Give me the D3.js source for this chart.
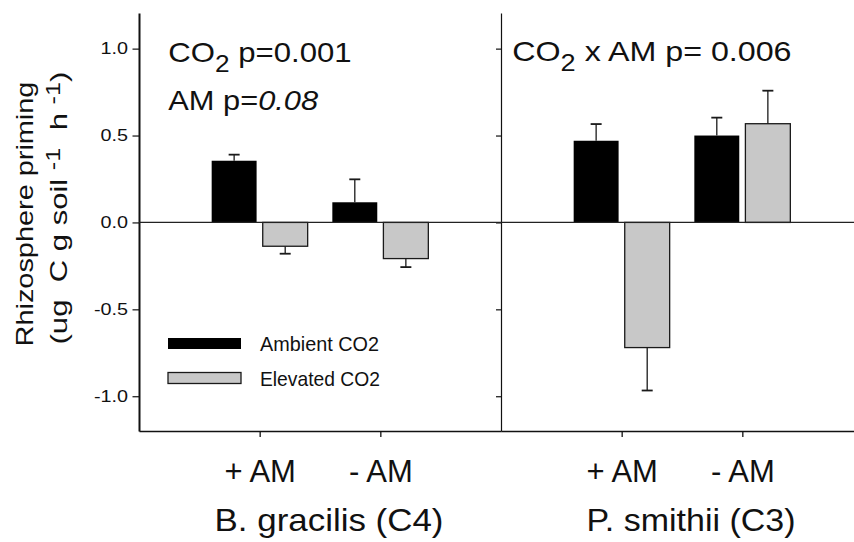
<!DOCTYPE html>
<html>
<head>
<meta charset="utf-8">
<script src="https://cdn.jsdelivr.net/npm/d3@7"></script>
<style>
  body { margin: 0; background: #fff; }
  text { font-family: "Liberation Sans", Arial, sans-serif; fill: #111; white-space: pre; }
</style>
</head>
<body>
<div id="chart"></div>
<script>
// Values (one inner array per species panel).
const species = ["B. gracilis (C4)", "P. smithii (C3)"];
const treatments = ["+ AM", "- AM"];
const series = ["Ambient CO2", "Elevated CO2"];
const ambientMean = [[0.355, 0.116], [0.47, 0.50]];
const ambientErr = [[0.035, 0.132], [0.096, 0.103]];
const elevatedMean = [[-0.137, -0.208], [-0.72, 0.568]];
const elevatedErr = [[0.043, 0.049], [0.247, 0.19]];
const yTicks = [-1.0, -0.5, 0.0, 0.5, 1.0];
const yTickLabels = ["-1.0", "-0.5", "0.0", "0.5", "1.0"];

// Chart size and layout.
const width = 854;
const height = 542;
const margin = { top: 13, bottom: 111, left: 139 };
const panelWidth = 362;
const colors = ["#000000", "#c8c8c8"];

const svg = d3.select("#chart")
  .append("svg")
  .attr("width", width)
  .attr("height", height);

svg.append("rect").attr("width", width).attr("height", height).attr("fill", "#fff");

const y = d3.scaleLinear()
  .domain([-1.2, 1.205])
  .range([height - margin.bottom, margin.top]);

const inner = d3.scaleBand()
  .domain(series)
  .range([-48, 48])
  .paddingInner(0.12);

// Text in the figure is wider than Arial, so stretch it to the measured width.
function fitWidth(t, w) {
  const bw = t.node().getBBox().width;
  t.attr("transform", "scale(" + (w / bw) + ",1)");
}

function placeText(x, yPos, rotate) {
  return svg.append("g")
    .attr("transform", "translate(" + x + "," + yPos + ")" + (rotate ? " rotate(" + rotate + ")" : ""))
    .append("text");
}

species.forEach(function(name, i) {
  const x0 = margin.left + i * panelWidth;
  const x = d3.scalePoint()
    .domain(treatments)
    .range([x0, x0 + panelWidth])
    .padding(1);

  const rows = [];
  treatments.forEach(function(t, j) {
    rows.push({ t: t, s: series[0], v: ambientMean[i][j], e: ambientErr[i][j] });
    rows.push({ t: t, s: series[1], v: elevatedMean[i][j], e: elevatedErr[i][j] });
  });

  // Bars.
  svg.append("g")
    .selectAll("rect")
    .data(rows)
    .enter()
    .append("rect")
    .attr("x", function(d) { return x(d.t) + inner(d.s); })
    .attr("y", function(d) { return Math.min(y(d.v), y(0)); })
    .attr("width", inner.bandwidth())
    .attr("height", function(d) { return Math.abs(y(d.v) - y(0)); })
    .attr("fill", function(d) { return colors[series.indexOf(d.s)]; })
    .attr("stroke", "#1a1a1a")
    .attr("stroke-width", function(d) { return d.s === series[1] ? 1.3 : 0; });

  // One-sided error bars.
  const eb = svg.append("g")
    .selectAll("g")
    .data(rows)
    .enter()
    .append("g")
    .attr("stroke", "#1a1a1a");

  eb.append("line")
    .attr("x1", function(d) { return x(d.t) + inner(d.s) + inner.bandwidth() / 2; })
    .attr("x2", function(d) { return x(d.t) + inner(d.s) + inner.bandwidth() / 2; })
    .attr("y1", function(d) { return y(d.v); })
    .attr("y2", function(d) { return y(d.v + Math.sign(d.v) * d.e); })
    .attr("stroke-width", 1.3);

  eb.append("line")
    .attr("x1", function(d) { return x(d.t) + inner(d.s) + inner.bandwidth() / 2 - 5.5; })
    .attr("x2", function(d) { return x(d.t) + inner(d.s) + inner.bandwidth() / 2 + 5.5; })
    .attr("y1", function(d) { return y(d.v + Math.sign(d.v) * d.e); })
    .attr("y2", function(d) { return y(d.v + Math.sign(d.v) * d.e); })
    .attr("stroke-width", 1.8);

  // Bottom axis with treatment labels.
  const xAxis = svg.append("g")
    .attr("transform", "translate(0," + (height - margin.bottom) + ")")
    .call(d3.axisBottom(x).tickSize(6).tickSizeOuter(0));
  xAxis.select(".domain").attr("stroke", "#111").attr("stroke-width", 1.5);
  xAxis.selectAll("line").attr("stroke", "#111").attr("stroke-width", 1.3);
  xAxis.selectAll("text")
    .attr("y", 51)
    .attr("dy", 0)
    .attr("fill", "#111")
    .style("font-size", "31px");

  // Species title under each panel.
  const title = placeText(x0 + 190, 531).attr("text-anchor", "middle").style("font-size", "31px").text(name);
  fitWidth(title, i === 0 ? 229 : 209);

  // Left axis for each panel, labels only on the first.
  const yAxis = svg.append("g")
    .attr("transform", "translate(" + x0 + ",0)")
    .call(d3.axisLeft(y)
      .tickValues(yTicks)
      .tickSize(i === 0 ? 6.5 : 5)
      .tickSizeOuter(0)
      .tickFormat(function(d, k) { return i === 0 ? yTickLabels[k] : ""; }));
  yAxis.select(".domain").attr("stroke", "#111").attr("stroke-width", i === 0 ? 2 : 1.2);
  yAxis.selectAll("line").attr("stroke", "#111").attr("stroke-width", 1.2);
  yAxis.selectAll("text")
    .attr("x", -11 / 1.2)
    .attr("transform", "scale(1.2,1)")
    .attr("fill", "#222")
    .style("font-size", "16.5px");
});

// Zero line across both panels.
svg.append("line")
  .attr("x1", margin.left)
  .attr("x2", width)
  .attr("y1", y(0))
  .attr("y2", y(0))
  .attr("stroke", "#222")
  .attr("stroke-width", 1.2);

// Y axis title, two lines.
const yl1 = placeText(33, 214, -90).attr("text-anchor", "middle").style("font-size", "24.5px").text("Rhizosphere priming");
fitWidth(yl1, 265);
const yl2 = placeText(67, 208, -90).attr("text-anchor", "middle").style("font-size", "24.5px");
yl2.append("tspan").text("(ug  C g soil ");
yl2.append("tspan").attr("dy", -7).style("font-size", "20px").text("-1");
yl2.append("tspan").attr("dy", 7).text("  h ");
yl2.append("tspan").attr("dy", -7).style("font-size", "20px").text("-1");
yl2.append("tspan").attr("dy", 7).text(")");
fitWidth(yl2, 273);

// Statistics annotations.
const a1 = placeText(168.3, 62).style("font-size", "28.5px");
a1.append("tspan").text("CO");
a1.append("tspan").attr("dy", 10).style("font-size", "24px").text("2");
a1.append("tspan").attr("dy", -10).text(" p=0.001");
fitWidth(a1, 183.4);

const a2 = placeText(168.3, 110).style("font-size", "28.5px");
a2.append("tspan").text("AM p=");
a2.append("tspan").style("font-style", "italic").text("0.08");
fitWidth(a2, 150);

const a3 = placeText(512.3, 61).style("font-size", "28.5px");
a3.append("tspan").text("CO");
a3.append("tspan").attr("dy", 10).style("font-size", "24px").text("2");
a3.append("tspan").attr("dy", -10).text(" x AM p= 0.006");
fitWidth(a3, 279.4);

// Legend.
const legendY = [343.5, 378];
series.forEach(function(s, k) {
  svg.append("rect")
    .attr("x", 168)
    .attr("y", legendY[k] - 5.5)
    .attr("width", 73)
    .attr("height", 11)
    .attr("fill", colors[k])
    .attr("stroke", "#1a1a1a")
    .attr("stroke-width", k === 1 ? 1.3 : 0);
  const t = placeText(260, legendY[k] + 7.5).style("font-size", "20.5px").text(s);
  fitWidth(t, k === 0 ? 119 : 120);
});
</script>
</body>
</html>
